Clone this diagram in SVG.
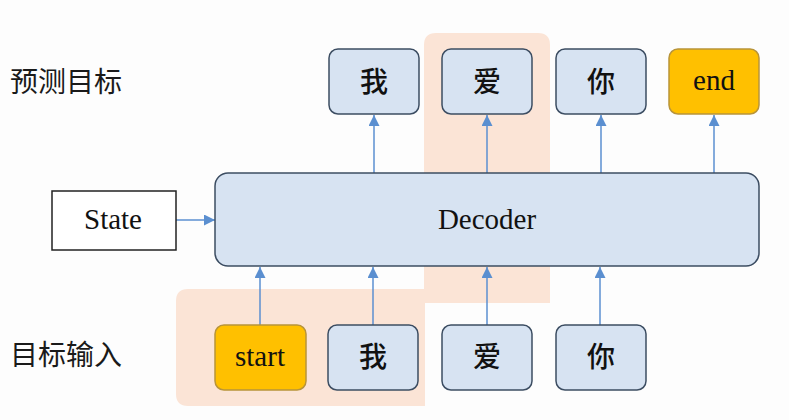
<svg xmlns="http://www.w3.org/2000/svg" width="789" height="420" viewBox="0 0 789 420">
<style>
.lbl{font-family:"Noto Sans CJK SC","Noto Sans",sans-serif;font-size:28px;fill:#1a1a1a}
.cn{font-family:"Noto Sans CJK SC","Noto Sans",sans-serif;font-size:28px;fill:#111;text-anchor:middle;font-weight:500}
.en{font-family:"Liberation Serif","Times New Roman",serif;font-size:29px;fill:#111;text-anchor:middle}
.box{fill:#d7e3f2;stroke:#3c4d62;stroke-width:1.5}
.yel{fill:#ffc000;stroke:#b8943a;stroke-width:1.5}
.hl{fill:#fbe4d6}
.conn{stroke:#5b8fd0;stroke-width:1.5;fill:none}
</style>
<defs>
<marker id="ah" viewBox="0 0 10 10" refX="10" refY="5" markerWidth="11" markerHeight="11" markerUnits="userSpaceOnUse" orient="auto">
<path d="M0,0 L10,5 L0,10 z" fill="#5b8fd0"/>
</marker>
</defs>
<rect width="789" height="420" fill="#fdfdfd"/>
<g id="highlight">
<path class="hl" d="M436,33 H538 Q550,33 550,45 V303 H425 V406 H188 Q176,406 176,394 V301 Q176,289 188,289 H424 V45 Q424,33 436,33 Z"/>
</g>
<g id="label-target"><text class="lbl" x="10" y="92">预测目标</text></g>
<g id="label-input"><text class="lbl" x="10" y="365">目标输入</text></g>
<g id="connectors">
<line class="conn" x1="176" y1="220" x2="215" y2="220" marker-end="url(#ah)"/>
<line class="conn" x1="374" y1="173" x2="374" y2="115" marker-end="url(#ah)"/>
<line class="conn" x1="487" y1="173" x2="487" y2="115" marker-end="url(#ah)"/>
<line class="conn" x1="601" y1="173" x2="601" y2="115" marker-end="url(#ah)"/>
<line class="conn" x1="714" y1="173" x2="714" y2="115" marker-end="url(#ah)"/>
<line class="conn" x1="260" y1="325" x2="260" y2="267" marker-end="url(#ah)"/>
<line class="conn" x1="373" y1="325" x2="373" y2="267" marker-end="url(#ah)"/>
<line class="conn" x1="487" y1="325" x2="487" y2="267" marker-end="url(#ah)"/>
<line class="conn" x1="600" y1="325" x2="600" y2="267" marker-end="url(#ah)"/>
</g>
<g id="decoder">
<rect class="box" x="215" y="173" width="544" height="93" rx="13"/>
<text class="en" x="487" y="229">Decoder</text>
</g>
<g id="state">
<rect x="52" y="191" width="124" height="59" fill="#fff" stroke="#222" stroke-width="1.5"/>
<text class="en" x="113" y="229">State</text>
</g>
<g id="out-wo"><rect class="box" x="329" y="49" width="90" height="65" rx="9"/><text class="cn" x="374" y="92">我</text></g>
<g id="out-ai"><rect class="box" x="442" y="49" width="90" height="65" rx="9"/><text class="cn" x="487" y="92">爱</text></g>
<g id="out-ni"><rect class="box" x="556" y="49" width="90" height="65" rx="9"/><text class="cn" x="601" y="92">你</text></g>
<g id="out-end"><rect class="yel" x="669" y="49" width="90" height="65" rx="9"/><text class="en" x="714" y="90">end</text></g>
<g id="in-start"><rect class="yel" x="215" y="325" width="91" height="65" rx="9"/><text class="en" x="260" y="366">start</text></g>
<g id="in-wo"><rect class="box" x="328" y="325" width="90" height="65" rx="9"/><text class="cn" x="373" y="367">我</text></g>
<g id="in-ai"><rect class="box" x="442" y="325" width="90" height="65" rx="9"/><text class="cn" x="487" y="367">爱</text></g>
<g id="in-ni"><rect class="box" x="556" y="325" width="90" height="65" rx="9"/><text class="cn" x="601" y="367">你</text></g>
</svg>
